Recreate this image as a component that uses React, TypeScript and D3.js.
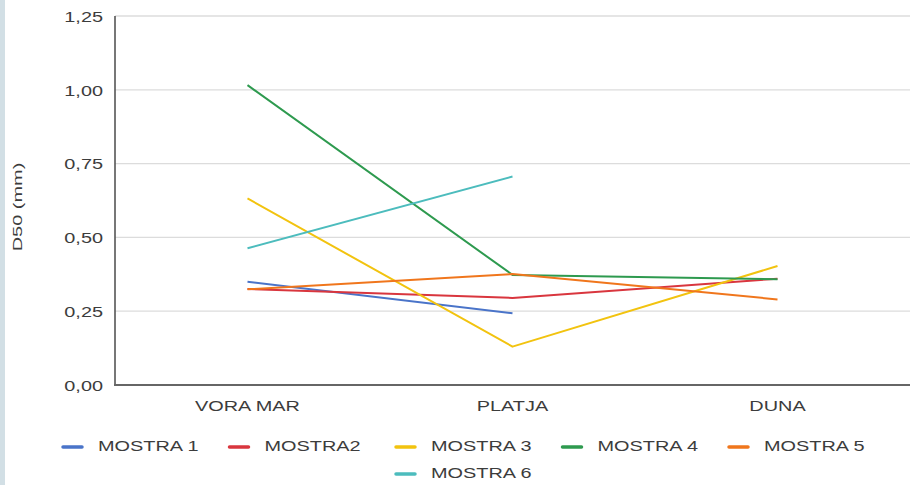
import React from "react";
import * as d3 from "d3";

// Sampling sites along the beach profile
const categories = ["VORA MAR", "PLATJA", "DUNA"];

// D50 grain size (mm) per sample; null = not measured at that site
const mostra1 = [0.35, 0.243, null];
const mostra2 = [0.325, 0.295, 0.36];
const mostra3 = [0.632, 0.13, 0.403];
const mostra4 = [1.016, 0.373, 0.358];
const mostra5 = [0.324, 0.376, 0.29];
const mostra6 = [0.463, 0.706, null];

const seriesNames = ["MOSTRA 1", "MOSTRA2", "MOSTRA 3", "MOSTRA 4", "MOSTRA 5", "MOSTRA 6"];
const seriesValues = [mostra1, mostra2, mostra3, mostra4, mostra5, mostra6];
const seriesColors = ["#4a74c9", "#d9363e", "#f2c30f", "#2e9a4f", "#f0761c", "#4cbcbd"];

const yTicks = [0, 0.25, 0.5, 0.75, 1.0, 1.25];

const W = 912;
const H = 485;
const SX = 1.42; // horizontal text stretch
const FONT = "'Liberation Sans', Arial, sans-serif";
const TEXT = "#3c3c3c";

export default function App() {
  const x = d3.scaleBand<string>().domain(categories).range([115, 910]);
  const y = d3.scaleLinear().domain([0, 1.25]).range([385, 16]);
  const fmt = (v: number) => v.toFixed(2).replace(".", ",");

  const line = d3
    .line<number | null>()
    .defined((d) => d !== null)
    .x((_, i) => (x(categories[i]) as number) + x.bandwidth() / 2)
    .y((d) => y(d as number));

  // legend layout: 5 items in first row, the rest centred below
  const legendItems = seriesNames.map((name, i) => {
    const row = i < 5 ? 0 : 1;
    const col = i < 5 ? i : 2;
    return { name, color: seriesColors[i], x: 63 + col * 166.5, y: row === 0 ? 447 : 474 };
  });

  return (
    <svg
      width={W}
      height={H}
      style={{ position: "absolute", left: 0, top: 0, background: "#fff", fontFamily: FONT }}
    >
      <rect x={0} y={0} width={W} height={H} fill="#fff" />
      <rect x={0} y={0} width={5} height={H} fill="#d2dfe5" />

      {/* gridlines */}
      {yTicks.map((t) => (
        <line key={t} x1={115} x2={910} y1={y(t)} y2={y(t)} stroke="#dcdcdc" strokeWidth={1.3} />
      ))}

      {/* y tick labels */}
      {yTicks.map((t) => (
        <text
          key={"l" + t}
          transform={`translate(103,${y(t) + 2}) scale(${SX},1)`}
          textAnchor="end"
          dominantBaseline="middle"
          fontSize={14}
          fill={TEXT}
        >
          {fmt(t)}
        </text>
      ))}

      {/* axes */}
      <line x1={115} x2={115} y1={16} y2={386} stroke="#555" strokeWidth={1.6} />
      <line x1={114} x2={910} y1={385} y2={385} stroke="#666" strokeWidth={2} />

      {/* category labels */}
      {categories.map((c) => (
        <text
          key={c}
          transform={`translate(${(x(c) as number) + x.bandwidth() / 2},407) scale(${SX},1)`}
          textAnchor="middle"
          dominantBaseline="middle"
          fontSize={14}
          fill={TEXT}
        >
          {c}
        </text>
      ))}

      {/* axis title */}
      <text
        transform={`translate(19,207) scale(1.25,1) rotate(-90) scale(1.9,1)`}
        textAnchor="middle"
        dominantBaseline="middle"
        fontSize={10.5}
        fill={TEXT}
      >
        D50 (mm)
      </text>

      {/* series lines */}
      {seriesValues.map((vals, i) => (
        <path
          key={seriesNames[i]}
          d={line(vals) as string}
          fill="none"
          stroke={seriesColors[i]}
          strokeWidth={2}
          strokeLinejoin="round"
        />
      ))}

      {/* legend */}
      {legendItems.map((it) => (
        <g key={it.name}>
          <line x1={it.x} x2={it.x + 19} y1={it.y} y2={it.y} stroke={it.color} strokeWidth={3.5} strokeLinecap="round" />
          <text
            transform={`translate(${it.x + 35},${it.y}) scale(${SX},1)`}
            dominantBaseline="middle"
            fontSize={14}
            fill={TEXT}
          >
            {it.name}
          </text>
        </g>
      ))}
    </svg>
  );
}
